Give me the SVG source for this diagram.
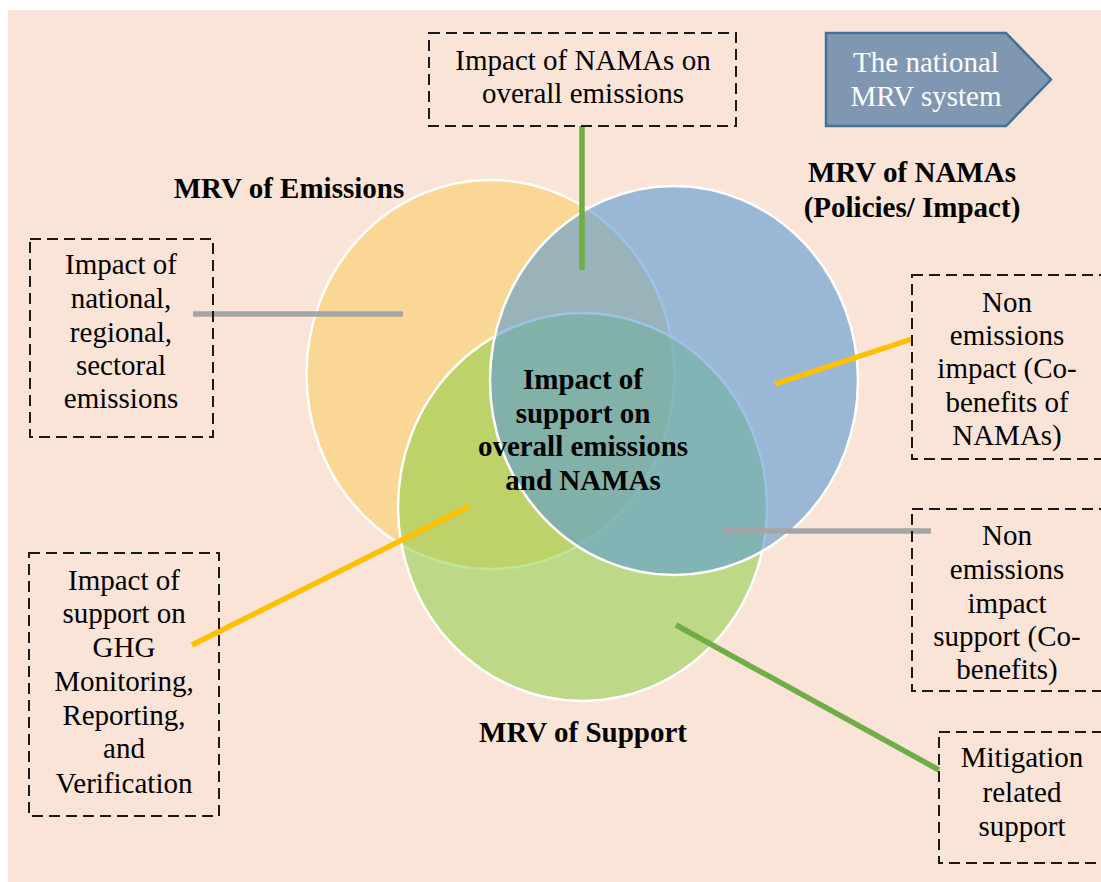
<svg xmlns="http://www.w3.org/2000/svg" width="1101" height="882" viewBox="0 0 1101 882">
<style>
.t{font-family:'Liberation Serif',serif;font-size:29px;fill:#000;text-anchor:middle}
.b{font-weight:bold}
.w{fill:#fff}
.box{fill:none;stroke:#1a1a1a;stroke-width:2;stroke-dasharray:11 6}
.c{stroke:#fff;stroke-width:2.5}
.ln{stroke-width:5.5;fill:none}
</style>
<rect x="0" y="0" width="1101" height="882" fill="#fff"/>
<rect x="8" y="10" width="1100" height="880" fill="#FAE4D8"/>
<g id="venn">
<g id="emissions"><ellipse class="c" cx="490.5" cy="374.5" rx="184" ry="194.5" fill="#FAD794"/></g>
<g id="support"><ellipse class="c" cx="582.5" cy="507" rx="184.5" ry="194" fill="#8BD045" fill-opacity="0.55"/></g>
<g id="namas"><ellipse class="c" cx="674" cy="380.5" rx="184" ry="194.5" fill="#5A9BD5" fill-opacity="0.6"/></g>
</g>
<g id="connectors">
<line class="ln" x1="582" y1="126" x2="582" y2="270" stroke="#70AD47"/>
<line class="ln" x1="193" y1="314" x2="403" y2="314" stroke="#A5A5A5"/>
<line class="ln" x1="775" y1="384" x2="912" y2="339" stroke="#FFC000"/>
<line class="ln" x1="722" y1="531" x2="931" y2="531" stroke="#A5A5A5"/>
<line class="ln" x1="192" y1="645" x2="470" y2="506" stroke="#FFC000"/>
<line class="ln" x1="676" y1="625" x2="939" y2="770" stroke="#70AD47"/>
</g>
<g id="center-label">
<text class="t b" x="583" y="389">Impact of</text>
<text class="t b" x="583" y="423">support on</text>
<text class="t b" x="583" y="456">overall emissions</text>
<text class="t b" x="583" y="490">and NAMAs</text>
</g>
<g id="label-emissions"><text class="t b" x="289" y="198">MRV of Emissions</text></g>
<g id="label-namas">
<text class="t b" x="912" y="182">MRV of NAMAs</text>
<text class="t b" x="912" y="217">(Policies/ Impact)</text>
</g>
<g id="label-support"><text class="t b" x="583" y="742">MRV of Support</text></g>
<g id="national-mrv">
<path d="M826,33 H1006 L1051,79.5 L1006,126 H826 Z" fill="#8097B2" stroke="#41719C" stroke-width="2.5"/>
<text class="t w" x="926" y="72">The national</text>
<text class="t w" x="926" y="106">MRV system</text>
</g>
<g id="box-namas-emissions">
<rect class="box" x="429" y="33" width="307" height="93"/>
<text class="t" x="583" y="70">Impact of NAMAs on</text>
<text class="t" x="583" y="103">overall emissions</text>
</g>
<g id="box-national">
<rect class="box" x="30" y="239" width="183" height="198"/>
<text class="t" x="121" y="274">Impact of</text>
<text class="t" x="121" y="308">national,</text>
<text class="t" x="121" y="342">regional,</text>
<text class="t" x="121" y="375">sectoral</text>
<text class="t" x="121" y="408">emissions</text>
</g>
<g id="box-ghg">
<rect class="box" x="29" y="553" width="190" height="263"/>
<text class="t" x="124" y="590">Impact of</text>
<text class="t" x="124" y="623">support on</text>
<text class="t" x="124" y="657">GHG</text>
<text class="t" x="124" y="691">Monitoring,</text>
<text class="t" x="124" y="725">Reporting,</text>
<text class="t" x="124" y="758">and</text>
<text class="t" x="124" y="793">Verification</text>
</g>
<g id="box-cobenefits-namas">
<rect class="box" x="912" y="275" width="200" height="184"/>
<text class="t" x="1007" y="312">Non</text>
<text class="t" x="1007" y="345">emissions</text>
<text class="t" x="1007" y="378">impact (Co-</text>
<text class="t" x="1007" y="412">benefits of</text>
<text class="t" x="1007" y="445">NAMAs)</text>
</g>
<g id="box-cobenefits-support">
<rect class="box" x="912" y="509" width="200" height="182"/>
<text class="t" x="1007" y="545">Non</text>
<text class="t" x="1007" y="579">emissions</text>
<text class="t" x="1007" y="613">impact</text>
<text class="t" x="1007" y="646">support (Co-</text>
<text class="t" x="1007" y="679">benefits)</text>
</g>
<g id="box-mitigation">
<rect class="box" x="939" y="732" width="200" height="131"/>
<text class="t" x="1022" y="767">Mitigation</text>
<text class="t" x="1022" y="802">related</text>
<text class="t" x="1022" y="836">support</text>
</g>
</svg>
